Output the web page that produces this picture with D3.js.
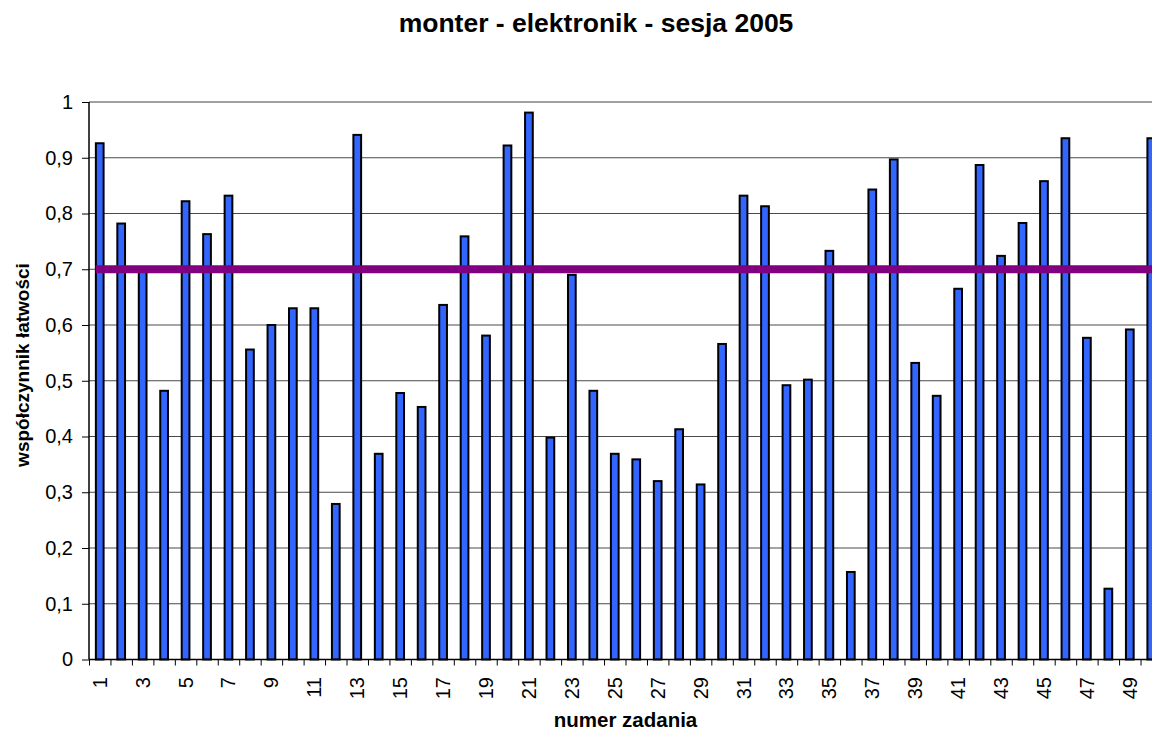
<!DOCTYPE html>
<html>
<head>
<meta charset="utf-8">
<script src="https://cdn.jsdelivr.net/npm/d3@7"></script>
<style>
  body { margin: 0; background: #fff; }
  svg { display: block; font-family: Arial, "Liberation Sans", sans-serif; }
  .axis path { display: none; }
</style>
</head>
<body>
<svg id="chart"></svg>
<script>
// task numbers and ease coefficients
const tasks = d3.range(1, 51);
const values = [
  0.926, 0.782, 0.700, 0.482, 0.822, 0.763, 0.832, 0.556, 0.600, 0.630,
  0.630, 0.279, 0.941, 0.369, 0.478, 0.453, 0.636, 0.759, 0.581, 0.922,
  0.981, 0.398, 0.690, 0.482, 0.369, 0.359, 0.320, 0.413, 0.314, 0.566,
  0.832, 0.813, 0.492, 0.502, 0.733, 0.157, 0.843, 0.897, 0.532, 0.473,
  0.665, 0.887, 0.724, 0.783, 0.858, 0.935, 0.577, 0.127, 0.592, 0.935
];
const threshold = 0.7;
const yTicks = d3.range(0, 11).map(d => d / 10);
const xLabels = tasks.filter(d => d % 2 === 1);

const data = tasks.map((t, i) => ({ task: t, value: values[i] }));

// the chart area is wider than the picture, the right edge is cut off
const config = {
  width: 1152,
  height: 730,
  margin: { top: 102, left: 89 },
  plotWidth: 1073,
  plotHeight: 557.5
};

const svg = d3.select("#chart")
  .attr("width", config.width)
  .attr("height", config.height);

const plotLeft = config.margin.left;
const plotTop = config.margin.top;
const plotBottom = plotTop + config.plotHeight;
const plotRight = plotLeft + config.plotWidth;

// scales
const xScale = d3.scaleBand().domain(tasks).range([plotLeft, plotRight]).paddingInner(0.64).paddingOuter(0.32);
const xEdge = d3.scaleLinear().domain([0, tasks.length]).range([plotLeft, plotRight]);
const yScale = d3.scaleLinear().domain([0, 1]).range([plotBottom, plotTop]);

// gridlines
svg.append("g")
  .attr("class", "grid")
  .selectAll("line")
  .data(yTicks.filter(d => d > 0))
  .join("line")
  .attr("x1", plotLeft)
  .attr("x2", plotRight)
  .attr("y1", d => yScale(d))
  .attr("y2", d => yScale(d))
  .attr("stroke", d => d === 1 ? "#808080" : "#4a4a4a")
  .attr("stroke-width", d => d === 1 ? 1.5 : 1);

// bars
svg.append("g")
  .selectAll("rect")
  .data(data)
  .join("rect")
  .attr("x", d => xScale(d.task))
  .attr("width", xScale.bandwidth())
  .attr("y", d => yScale(d.value))
  .attr("height", d => yScale(0) - yScale(d.value))
  .attr("fill", "#3366ff")
  .attr("stroke", "#000")
  .attr("stroke-width", 2);

// threshold line across category centres
const line = d3.line()
  .x(d => xScale(d) + xScale.bandwidth() / 2)
  .y(() => yScale(threshold));

svg.append("path")
  .datum([tasks[0], tasks[tasks.length - 1]])
  .attr("d", line)
  .attr("fill", "none")
  .attr("stroke", "#800080")
  .attr("stroke-width", 8)
  .attr("stroke-linecap", "square");

// y axis
const yAxis = d3.axisLeft(yScale)
  .tickValues(yTicks)
  .tickSize(7)
  .tickPadding(9)
  .tickFormat(d => String(d).replace(".", ","));

const yAxisG = svg.append("g")
  .attr("class", "axis y-axis")
  .attr("transform", `translate(${plotLeft},0)`)
  .call(yAxis);
yAxisG.selectAll("text").style("font-size", "20px").attr("fill", "#000");

svg.append("line")
  .attr("x1", plotLeft).attr("x2", plotLeft)
  .attr("y1", plotTop).attr("y2", plotBottom)
  .attr("stroke", "#000").attr("stroke-width", 1.5);

// x axis: tick marks on category boundaries
const xEdgeAxis = d3.axisBottom(xEdge)
  .tickValues(d3.range(0, tasks.length + 1))
  .tickSize(6)
  .tickFormat("");
svg.append("g")
  .attr("class", "axis x-edge")
  .attr("transform", `translate(0,${plotBottom})`)
  .call(xEdgeAxis);

svg.append("line")
  .attr("x1", plotLeft).attr("x2", plotRight)
  .attr("y1", plotBottom).attr("y2", plotBottom)
  .attr("stroke", "#000").attr("stroke-width", 1.5);

// x axis labels, rotated
const xAxis = d3.axisBottom(xScale)
  .tickValues(xLabels)
  .tickSize(0)
  .tickPadding(0);
const xAxisG = svg.append("g")
  .attr("class", "axis x-axis")
  .attr("transform", `translate(0,${plotBottom})`)
  .call(xAxis);
xAxisG.selectAll("text")
  .style("font-size", "20px")
  .attr("fill", "#000")
  .attr("text-anchor", "end")
  .attr("transform", "rotate(-90)")
  .attr("x", -17.5)
  .attr("y", 0)
  .attr("dy", "0.35em");

// titles (centred on the full chart area, part of which is cut off)
svg.append("text")
  .attr("x", 596)
  .attr("y", 32)
  .attr("text-anchor", "middle")
  .style("font-size", "26.5px")
  .style("font-weight", "bold")
  .text("monter - elektronik - sesja 2005");

svg.append("text")
  .attr("x", (plotLeft + plotRight) / 2)
  .attr("y", 727)
  .attr("text-anchor", "middle")
  .style("font-size", "20.5px")
  .style("font-weight", "bold")
  .text("numer zadania");

svg.append("text")
  .attr("transform", `translate(28.5,365) rotate(-90)`)
  .attr("text-anchor", "middle")
  .style("font-size", "19px")
  .style("font-weight", "bold")
  .text("współczynnik łatwości");
</script>
</body>
</html>
